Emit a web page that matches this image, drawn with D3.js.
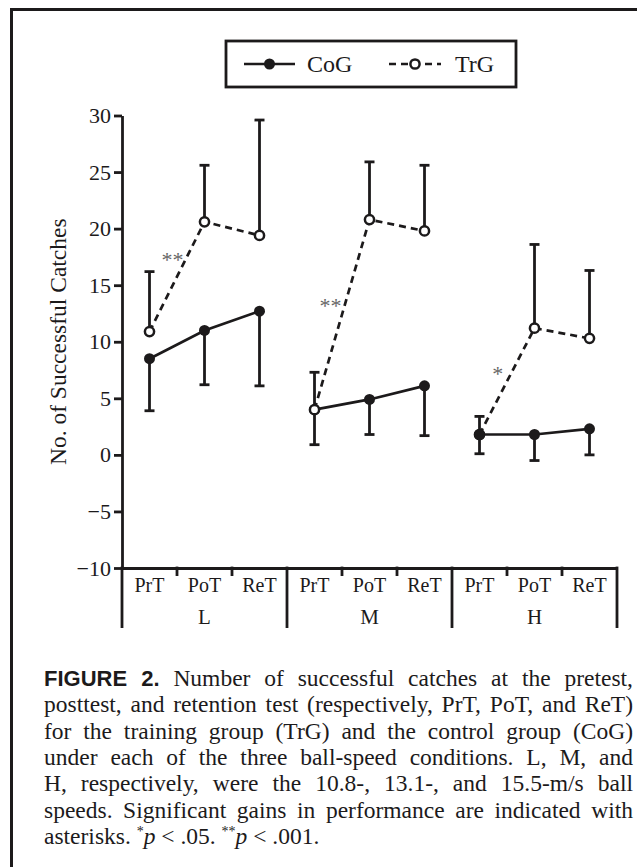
<!DOCTYPE html>
<html>
<head>
<meta charset="utf-8">
<script src="https://cdn.jsdelivr.net/npm/d3@7"></script>
<style>
  body { margin: 0; background: #fff; }
  svg { display: block; }
</style>
</head>
<body>
<div id="chart"></div>
<script>
// data
var groups = ["L", "M", "H"];
var tests = ["PrT", "PoT", "ReT"];
var cogMean = [8.5, 11.0, 12.7, 4.0, 4.9, 6.1, 1.8, 1.8, 2.3];
var cogLow = [3.9, 6.2, 6.1, 0.9, 1.8, 1.7, 0.1, -0.5, 0.0];
var trgMean = [10.9, 20.6, 19.4, 4.0, 20.8, 19.8, 1.8, 11.2, 10.3];
var trgHigh = [16.2, 25.6, 29.6, 7.3, 25.9, 25.6, 3.4, 18.6, 16.3];
var yTicks = [-10, -5, 0, 5, 10, 15, 20, 25, 30];
var starText = ["**", "**", "*"];
var starValue = [17.6, 13.5, 7.5];
var legendLabels = ["CoG", "TrG"];
var captionLines = [
  [{t: "FIGURE 2.", b: true}, {t: " Number of successful catches at the pretest,"}],
  [{t: "posttest, and retention test (respectively, PrT, PoT, and ReT)"}],
  [{t: "for the training group (TrG) and the control group (CoG)"}],
  [{t: "under each of the three ball-speed conditions. L, M, and"}],
  [{t: "H, respectively, were the 10.8-, 13.1-, and 15.5-m/s ball"}],
  [{t: "speeds. Significant gains in performance are indicated with"}],
  [{t: "asterisks. "}, {t: "*", sup: true}, {t: "p", i: true}, {t: " < .05. "}, {t: "**", sup: true}, {t: "p", i: true}, {t: " < .001."}]
];

var svgWidth = 637;
var svgHeight = 867;
var ink = "#1c1a1b";
var serif = "'Liberation Serif', 'Times New Roman', serif";

var svg = d3.select("#chart")
  .append("svg")
  .attr("width", svgWidth)
  .attr("height", svgHeight);

// open frame (left and top edges)
svg.append("path")
  .attr("d", "M11.5,867V9.5H637")
  .attr("fill", "none")
  .attr("stroke", ink)
  .attr("stroke-width", 3);

var cats = [];
groups.forEach(function(g) {
  tests.forEach(function(t) { cats.push(g + "|" + t); });
});

var axisY = 568;
var xScale = d3.scaleBand().domain(cats).range([122, 617]);
var yScale = d3.scaleLinear().domain([-10, 30]).range([axisY, 115.5]);
var cx = function(i) { return xScale(cats[i]) + xScale.bandwidth() / 2; };

// y axis
var leftAxis = d3.axisLeft(yScale)
  .tickValues(yTicks)
  .tickSize(8)
  .tickSizeOuter(0)
  .tickPadding(3)
  .tickFormat(function(d) { return d < 0 ? "\u2212" + Math.abs(d) : d; });

var yAxisG = svg.append("g")
  .attr("transform", "translate(122,0)")
  .call(leftAxis);
yAxisG.select(".domain").attr("stroke", ink).attr("stroke-width", 2.8);
yAxisG.selectAll(".tick line").attr("stroke", ink).attr("stroke-width", 2.8);
yAxisG.selectAll(".tick text")
  .attr("fill", ink)
  .style("font-family", serif)
  .style("font-size", "22px");

// x axis
var bottomAxis = d3.axisBottom(xScale)
  .tickSize(0)
  .tickPadding(10)
  .tickFormat(function(d) { return d.split("|")[1]; });

var xAxisG = svg.append("g")
  .attr("transform", "translate(0," + axisY + ")")
  .call(bottomAxis);
xAxisG.select(".domain").attr("stroke", ink).attr("stroke-width", 2.8);
xAxisG.selectAll(".tick text")
  .attr("fill", ink)
  .style("font-family", serif)
  .style("font-size", "20px");

// category boundaries: short ticks inside a group, long lines between groups
var bounds = d3.range(cats.length + 1);
svg.append("g").selectAll("line")
  .data(bounds)
  .enter()
  .append("line")
  .attr("x1", function(i) { return i < cats.length ? xScale(cats[i]) : xScale.range()[1]; })
  .attr("x2", function(i) { return i < cats.length ? xScale(cats[i]) : xScale.range()[1]; })
  .attr("y1", axisY - 1.4)
  .attr("y2", function(i) { return i % 3 === 0 ? 628 : axisY + 8; })
  .attr("stroke", ink)
  .attr("stroke-width", 2.8);

// group labels
svg.append("g").selectAll("text")
  .data(groups)
  .enter()
  .append("text")
  .attr("x", function(g, i) { return cx(i * 3 + 1); })
  .attr("y", 624)
  .attr("text-anchor", "middle")
  .attr("fill", ink)
  .style("font-family", serif)
  .style("font-size", "21px")
  .text(function(g) { return g; });

// y axis title
svg.append("text")
  .attr("transform", "translate(66," + yScale(10) + ") rotate(-90)")
  .attr("text-anchor", "middle")
  .attr("fill", ink)
  .style("font-family", serif)
  .style("font-size", "23.5px")
  .text("No. of Successful Catches");

var plot = svg.append("g");
var idx = d3.range(cats.length);

// error bars: TrG upward, CoG downward
function errorBars(means, ends) {
  var g = plot.append("g");
  g.selectAll(".stem")
    .data(idx)
    .enter()
    .append("line")
    .attr("x1", cx).attr("x2", cx)
    .attr("y1", function(i) { return yScale(means[i]); })
    .attr("y2", function(i) { return yScale(ends[i]); })
    .attr("stroke", ink)
    .attr("stroke-width", 2.8);
  g.selectAll(".cap")
    .data(idx)
    .enter()
    .append("line")
    .attr("x1", function(i) { return cx(i) - 5; })
    .attr("x2", function(i) { return cx(i) + 5; })
    .attr("y1", function(i) { return yScale(ends[i]); })
    .attr("y2", function(i) { return yScale(ends[i]); })
    .attr("stroke", ink)
    .attr("stroke-width", 2.8);
}
errorBars(trgMean, trgHigh);
errorBars(cogMean, cogLow);

// lines, one segment set per speed group
var lineGen = d3.line()
  .x(function(i) { return cx(i); });

groups.forEach(function(g, gi) {
  var pts = [gi * 3, gi * 3 + 1, gi * 3 + 2];
  plot.append("path")
    .datum(pts)
    .attr("d", lineGen.y(function(i) { return yScale(trgMean[i]); }))
    .attr("fill", "none")
    .attr("stroke", ink)
    .attr("stroke-width", 2.7)
    .attr("stroke-dasharray", "7,5");
  plot.append("path")
    .datum(pts)
    .attr("d", lineGen.y(function(i) { return yScale(cogMean[i]); }))
    .attr("fill", "none")
    .attr("stroke", ink)
    .attr("stroke-width", 2.7);
});

// markers
var cogDots = plot.append("g").selectAll("circle")
  .data(idx)
  .enter()
  .append("circle")
  .attr("cx", cx)
  .attr("cy", function(i) { return yScale(cogMean[i]); })
  .attr("r", 5.5)
  .attr("fill", ink);

plot.append("g").selectAll("circle")
  .data(idx)
  .enter()
  .append("circle")
  .attr("cx", cx)
  .attr("cy", function(i) { return yScale(trgMean[i]); })
  .attr("r", 4.6)
  .attr("fill", "#fff")
  .attr("stroke", ink)
  .attr("stroke-width", 2.5);

// in the H group the control dot sits on top
cogDots.filter(function(i) { return i === 6; }).each(function() {
  plot.node().appendChild(this);
});

// significance asterisks, placed just left of the dashed rise
svg.append("g").selectAll("text")
  .data(groups)
  .enter()
  .append("text")
  .attr("x", function(g, gi) {
    var a = gi * 3, b = gi * 3 + 1;
    var f = (starValue[gi] - trgMean[a]) / (trgMean[b] - trgMean[a]);
    return cx(a) + f * (cx(b) - cx(a)) - 15;
  })
  .attr("y", function(g, gi) { return yScale(starValue[gi]); })
  .attr("dy", "0.5em")
  .attr("text-anchor", "middle")
  .attr("fill", "#666")
  .style("font-family", serif)
  .style("font-size", "22px")
  .text(function(g, gi) { return starText[gi]; });

// legend
var legend = svg.append("g");
legend.append("rect")
  .attr("x", 226).attr("y", 41)
  .attr("width", 290).attr("height", 46)
  .attr("fill", "none")
  .attr("stroke", ink)
  .attr("stroke-width", 2.8);

legend.append("line")
  .attr("x1", 244).attr("x2", 295).attr("y1", 64).attr("y2", 64)
  .attr("stroke", ink).attr("stroke-width", 2.7);
legend.append("circle")
  .attr("cx", 269.5).attr("cy", 64).attr("r", 5.5).attr("fill", ink);
legend.append("line")
  .attr("x1", 389).attr("x2", 441).attr("y1", 64).attr("y2", 64)
  .attr("stroke", ink).attr("stroke-width", 2.7)
  .attr("stroke-dasharray", "7,5");
legend.append("circle")
  .attr("cx", 415).attr("cy", 64).attr("r", 4.6)
  .attr("fill", "#fff").attr("stroke", ink).attr("stroke-width", 2.5);

legend.selectAll("text")
  .data(legendLabels)
  .enter()
  .append("text")
  .attr("x", function(d, i) { return i === 0 ? 307 : 455; })
  .attr("y", 72)
  .attr("fill", ink)
  .style("font-family", serif)
  .style("font-size", "24px")
  .text(function(d) { return d; });

// caption, justified line by line
var capLeft = 44, capRight = 633;
captionLines.forEach(function(parts, li) {
  var t = svg.append("text")
    .attr("x", capLeft)
    .attr("y", 686 + li * 26.3)
    .attr("fill", ink)
    .style("font-family", serif)
    .style("font-size", "23.5px");
  parts.forEach(function(p, k) {
    var ts = t.append("tspan").text(p.t);
    if (p.b) ts.style("font-family", "'Liberation Sans', Arial, sans-serif").style("font-weight", "bold").style("font-size", "22px");
    if (p.i) ts.style("font-style", "italic");
    if (p.sup) ts.style("font-size", "14px").attr("dy", -8);
    if (k > 0 && parts[k - 1].sup) ts.attr("dy", 8);
  });
  if (li < captionLines.length - 1) {
    var len = t.node().getComputedTextLength();
    var spaces = parts.map(function(p) { return p.t; }).join("").split(" ").length - 1;
    t.style("word-spacing", ((capRight - capLeft - len) / spaces) + "px");
  }
});
</script>
</body>
</html>
